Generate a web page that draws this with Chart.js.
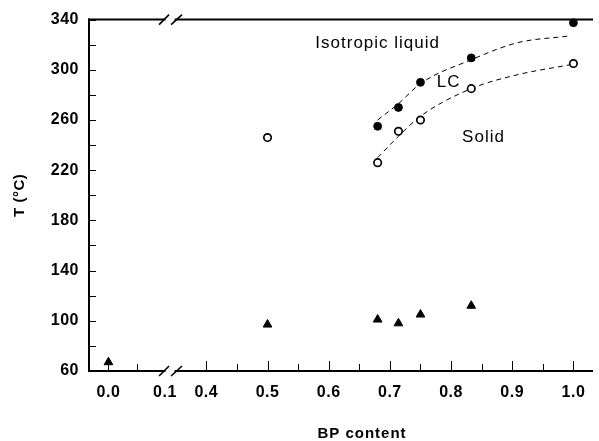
<!DOCTYPE html>
<html><head><meta charset="utf-8">
<script src="https://cdn.jsdelivr.net/npm/chart.js@4"></script>
<style>html,body{margin:0;padding:0;background:#fff}#wrap{width:599px;height:441px;position:relative}</style>
</head><body><div id="wrap"><canvas id="c" width="599" height="441"></canvas></div>
<script>
// ---- data ----
const BP_TRIANGLE = [0.0, 0.5, 0.68, 0.714, 0.75, 0.833];
const T_TRIANGLE  = [67, 97, 101, 98, 105, 112];
const BP_OPEN     = [0.5, 0.68, 0.714, 0.75, 0.833, 1.0];
const T_OPEN      = [246, 226, 251, 260, 285, 305];
const BP_FILLED   = [0.68, 0.714, 0.75, 0.833, 1.0];
const T_FILLED    = [255, 270, 290, 309.5, 337.5];
const BP_UPPER_CURVE = [0.68, 0.714, 0.75, 0.833, 0.908, 0.994];
const T_UPPER_CURVE  = [260, 273, 289, 308, 321.5, 327];
const BP_LOWER_CURVE = [0.68, 0.714, 0.75, 0.833, 0.908, 0.994];
const T_LOWER_CURVE  = [230, 247, 263, 285, 296, 304];
const X_TICKS = [0.0, 0.1, 0.4, 0.5, 0.6, 0.7, 0.8, 0.9, 1.0];
const X_TICK_LABELS = ['0.0','0.1','0.4','0.5','0.6','0.7','0.8','0.9','1.0'];
const X_MINOR = [0.05, 0.45, 0.55, 0.65, 0.75, 0.85, 0.95];
const Y_TICKS = [60, 100, 140, 180, 220, 260, 300, 340];
const Y_MINOR = [80, 120, 160, 200, 240, 280, 320];
const REGION_LABELS = ['Isotropic liquid', 'LC', 'Solid'];
const X_TITLE = 'BP content';
const Y_TITLE = 'T (\u00B0C)';

// ---- broken-axis mapping (layout) ----
const AX = { k1: 0.924, u04: 0.16, min: -0.0318, max: 0.792, breakU: 0.1007 };
function toU(x) { return x <= 0.1 + 1e-9 ? x * AX.k1 : x - 0.4 + AX.u04; }
const pts = (xs, ys) => xs.map((v, i) => ({ x: toU(v), y: ys[i] }));
const LABEL_POS = [
  { bp: 0.68, t: 321, size: 17 },
  { bp: 0.796, t: 290, size: 17 },
  { bp: 0.853, t: 246, size: 17 }
];

const framePlugin = {
  id: 'frame',
  beforeDraw(chart) { chart.ctx.letterSpacing = '0.5px'; },
  beforeDatasetsDraw(chart) {
    const { ctx, chartArea: a, scales: { x, y } } = chart;
    ctx.save();
    ctx.strokeStyle = '#000';
    const L = (x1, y1, x2, y2, w) => { ctx.lineWidth = w; ctx.beginPath(); ctx.moveTo(x1, y1); ctx.lineTo(x2, y2); ctx.stroke(); };
    const bx = x.getPixelForValue(AX.breakU);
    L(a.left, a.top - 1, a.left, a.bottom + 1, 2);
    for (const yy of [a.top, a.bottom]) {
      L(a.left - 1, yy, bx - 4.5, yy, 2);
      L(bx + 4.5, yy, a.right, yy, 2);
      L(bx - 11, yy + 5, bx - 1, yy - 5, 1.6);
      L(bx + 1, yy + 5, bx + 12, yy - 5, 1.6);
    }
    for (const v of Y_TICKS) { const p = Math.round(y.getPixelForValue(v)) + 0.5; L(a.left, p, a.left + 7, p, 1); }
    for (const v of Y_MINOR) { const p = Math.round(y.getPixelForValue(v)) + 0.5; L(a.left, p, a.left + 7, p, 1); }
    for (const v of X_TICKS) { if (v === 0.1) continue; const p = Math.round(x.getPixelForValue(toU(v))) + 0.5; L(p, a.bottom, p, a.bottom - 10, 1); }
    for (const v of X_MINOR) { const p = Math.round(x.getPixelForValue(toU(v))) + 0.5; L(p, a.bottom, p, a.bottom - 7, 1); }
    ctx.restore();
  },
  afterDatasetsDraw(chart) {
    const { ctx, scales: { x, y } } = chart;
    ctx.save();
    ctx.fillStyle = '#000';
    ctx.textAlign = 'center';
    ctx.textBaseline = 'middle';
    ctx.letterSpacing = '1px';
    REGION_LABELS.forEach((txt, i) => {
      const p = LABEL_POS[i];
      ctx.font = p.size + 'px "Liberation Sans", Arial, sans-serif';
      ctx.fillText(txt, x.getPixelForValue(toU(p.bp)), y.getPixelForValue(p.t));
    });
    ctx.font = 'bold 15px "Liberation Sans", Arial, sans-serif';
    ctx.fillText(X_TITLE, 362, 434);
    ctx.restore();
  }
};

new Chart(document.getElementById('c'), {
  type: 'scatter',
  data: {
    datasets: [
      { label: 'filled', data: pts(BP_FILLED, T_FILLED), pointStyle: 'circle', pointRadius: 4,
        backgroundColor: '#000', borderColor: '#000', borderWidth: 0.8, order: 0 },
      { label: 'open', data: pts(BP_OPEN, T_OPEN), pointStyle: 'circle', pointRadius: 3.7,
        backgroundColor: '#fff', borderColor: '#000', borderWidth: 1.7, order: 0 },
      { label: 'triangle', data: pts(BP_TRIANGLE, T_TRIANGLE), pointStyle: 'triangle', pointRadius: 5,
        backgroundColor: '#000', borderColor: '#000', borderWidth: 1, order: 0 },
      { label: 'upper', data: pts(BP_UPPER_CURVE, T_UPPER_CURVE), showLine: true, pointRadius: 0,
        borderColor: '#000', borderWidth: 1, borderDash: [5, 4], cubicInterpolationMode: 'monotone', order: 1 },
      { label: 'lower', data: pts(BP_LOWER_CURVE, T_LOWER_CURVE), showLine: true, pointRadius: 0,
        borderColor: '#000', borderWidth: 1, borderDash: [5, 4], cubicInterpolationMode: 'monotone', order: 1 }
    ]
  },
  options: {
    responsive: false, animation: false, devicePixelRatio: 1,
    layout: { padding: { top: 16, right: 0, left: 0, bottom: 0 } },
    plugins: { legend: { display: false }, tooltip: { enabled: false } },
    elements: { point: { hoverRadius: 0 } },
    clip: false,
    scales: {
      x: {
        type: 'linear', min: AX.min, max: AX.max,
        grid: { display: false, drawTicks: false }, border: { display: false },
        afterBuildTicks: (s) => { s.ticks = X_TICKS.map(v => ({ value: toU(v) })); },
        afterFit: (s) => { s.height = 70; },
        ticks: {
          autoSkip: false, maxRotation: 0, padding: 12, color: '#000',
          font: { family: '"Liberation Sans", Arial, sans-serif', size: 16, weight: 'bold' },
          callback: (v, i) => X_TICK_LABELS[i]
        }
      },
      y: {
        type: 'linear', min: 60, max: 340,
        grid: { display: false, drawTicks: false }, border: { display: false },
        afterBuildTicks: (s) => { s.ticks = Y_TICKS.map(v => ({ value: v })); },
        afterFit: (s) => { s.width = 89; },
        ticks: {
          padding: 10, color: '#000',
          font: { family: '"Liberation Sans", Arial, sans-serif', size: 16, weight: 'bold' }
        },
        title: {
          display: true, text: Y_TITLE, color: '#000', padding: { top: 11, bottom: 0 },
          font: { family: '"Liberation Sans", Arial, sans-serif', size: 15, weight: 'bold' }
        }
      }
    }
  },
  plugins: [framePlugin]
});
</script></body></html>
